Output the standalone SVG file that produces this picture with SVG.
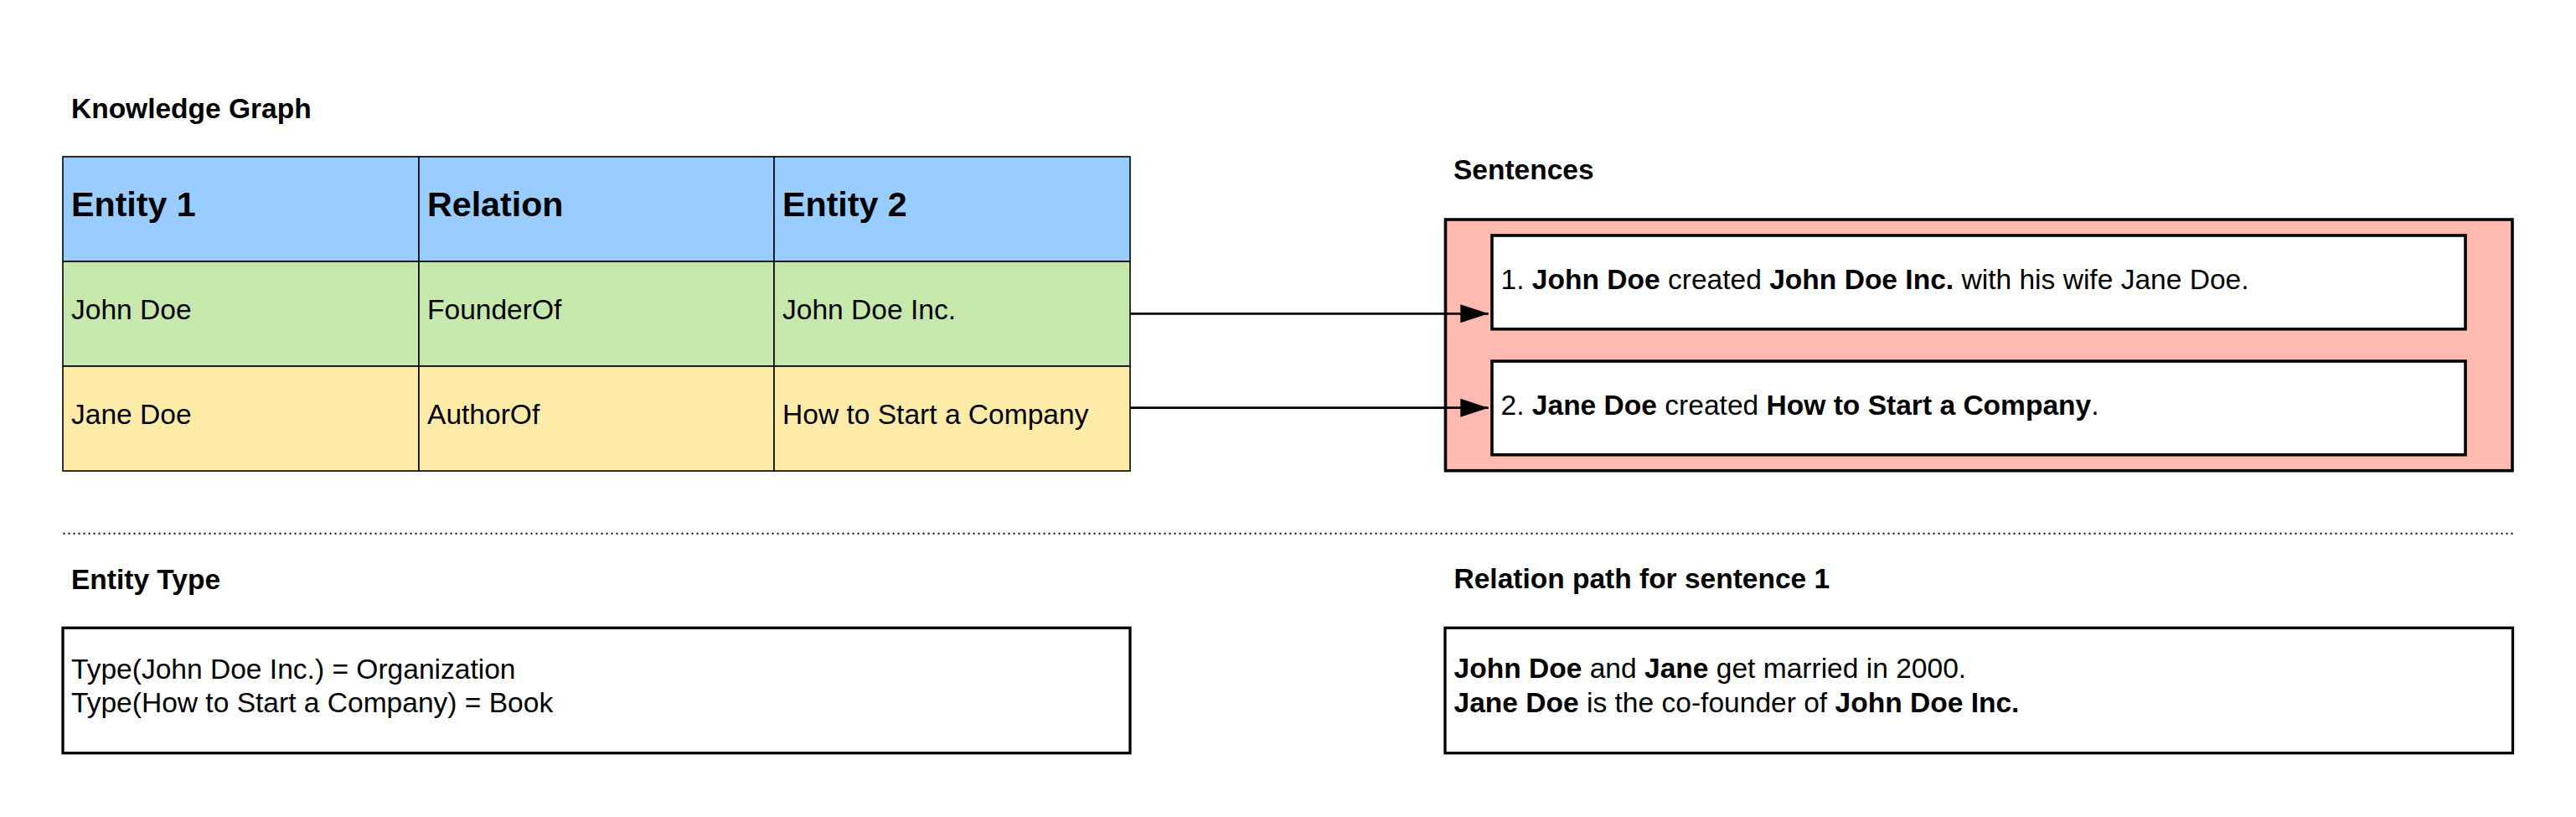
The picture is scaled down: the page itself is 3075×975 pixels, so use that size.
<svg xmlns="http://www.w3.org/2000/svg" width="3075" height="975" viewBox="0 0 3075 975">
<style>
text{font-family:"Liberation Sans",Arial,sans-serif;fill:#000}
.t{font-size:33.55px}
.h{font-size:41.2px;font-weight:bold}
.ttl{font-size:33.5px;font-weight:bold}
.b{font-weight:bold}
.cell{stroke:#000;stroke-width:1.6}
.hdr{fill:#99CCFF}
.grn{fill:#C7E8AC}
.yel{fill:#FFEBA8}
.box{fill:#fff;stroke:#000;stroke-width:3.6}
.bbox{fill:#fff;stroke:#000;stroke-width:3.3}
.conn{stroke:#000;stroke-width:2.8;fill:none}
</style>
<defs>
<marker id="arr" markerUnits="userSpaceOnUse" markerWidth="34" markerHeight="22" refX="33.4" refY="11" orient="auto">
<path d="M0,0 L33.4,11 L0,22 Z" fill="#000"/>
</marker>
</defs>
<rect width="3075" height="975" fill="#fff"/>

<g id="title-kg"><text class="ttl" x="85" y="140.7">Knowledge Graph</text></g>

<g id="table">
<g id="hdr-entity1"><rect class="cell hdr" x="75" y="187" width="425" height="125"/><text class="h" x="85" y="258.3">Entity 1</text></g>
<g id="hdr-relation"><rect class="cell hdr" x="500" y="187" width="424" height="125"/><text class="h" x="510" y="258.3">Relation</text></g>
<g id="hdr-entity2"><rect class="cell hdr" x="924" y="187" width="425" height="125"/><text class="h" x="934" y="258.3">Entity 2</text></g>
<g id="r1-e1"><rect class="cell grn" x="75" y="312" width="425" height="125"/><text class="t" x="85" y="381">John Doe</text></g>
<g id="r1-rel"><rect class="cell grn" x="500" y="312" width="424" height="125"/><text class="t" x="510" y="381">FounderOf</text></g>
<g id="r1-e2"><rect class="cell grn" x="924" y="312" width="425" height="125"/><text class="t" x="934" y="381">John Doe Inc.</text></g>
<g id="r2-e1"><rect class="cell yel" x="75" y="437" width="425" height="125"/><text class="t" x="85" y="506">Jane Doe</text></g>
<g id="r2-rel"><rect class="cell yel" x="500" y="437" width="424" height="125"/><text class="t" x="510" y="506">AuthorOf</text></g>
<g id="r2-e2"><rect class="cell yel" x="924" y="437" width="425" height="125"/><text class="t" x="934" y="506">How to Start a Company</text></g>
</g>

<g id="title-sent"><text class="ttl" x="1735" y="214.3">Sentences</text></g>

<g id="sentences">
<rect x="1725.5" y="262" width="1273.5" height="299.7" fill="#FFBAB2" stroke="#000" stroke-width="3.6"/>
</g>
<g id="sentence1">
<rect class="box" x="1781" y="281" width="1162" height="111.7"/>
<text class="t" x="1791.5" y="345">1. <tspan class="b">John Doe</tspan> created <tspan class="b">John Doe Inc.</tspan> with his wife Jane Doe.</text>
</g>
<g id="sentence2">
<rect class="box" x="1781" y="431" width="1162" height="111.7"/>
<text class="t" x="1791.5" y="495">2. <tspan class="b">Jane Doe</tspan> created <tspan class="b">How to Start a Company</tspan>.</text>
</g>

<g id="connectors">
<line class="conn" x1="1349" y1="374.3" x2="1776.7" y2="374.3" marker-end="url(#arr)"/>
<line class="conn" x1="1349" y1="486.7" x2="1776.7" y2="486.7" marker-end="url(#arr)"/>
</g>

<g id="separator"><line x1="75.5" y1="636.7" x2="3000" y2="636.7" stroke="#000" stroke-width="2" stroke-dasharray="2 4"/></g>

<g id="title-et"><text class="ttl" x="85" y="702.7">Entity Type</text></g>
<g id="entity-type">
<rect class="bbox" x="75" y="749.3" width="1274" height="149.4"/>
<text class="t" x="85" y="810">Type(John Doe Inc.) = Organization</text>
<text class="t" x="85" y="850">Type(How to Start a Company) = Book</text>
</g>

<g id="title-rp"><text class="ttl" x="1735.5" y="701.7">Relation path for sentence 1</text></g>
<g id="relation-path">
<rect class="bbox" x="1725" y="749.3" width="1274.5" height="149.4"/>
<text class="t" x="1735.5" y="809"><tspan class="b">John Doe</tspan> and <tspan class="b">Jane</tspan> get married in 2000.</text>
<text class="t" x="1735.5" y="849.5"><tspan class="b">Jane Doe</tspan> is the co-founder of <tspan class="b">John Doe Inc.</tspan></text>
</g>
</svg>
